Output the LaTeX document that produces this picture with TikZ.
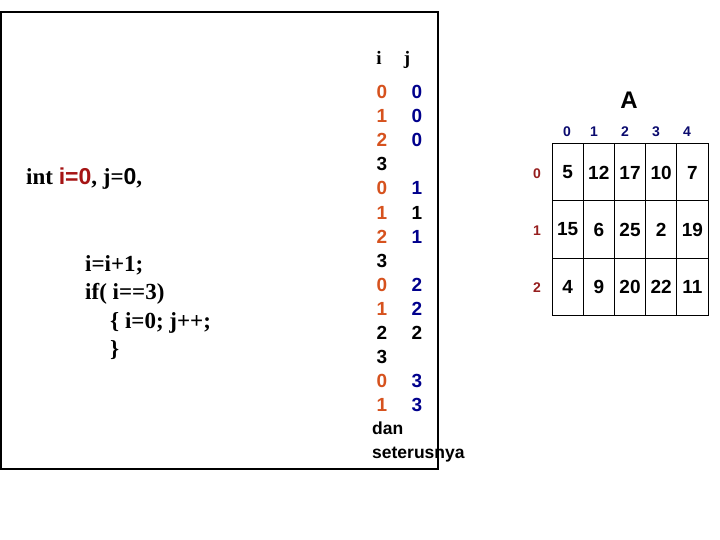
\documentclass[tikz,border=0pt]{standalone}
\usepackage{fontspec}
\setmainfont{Liberation Serif}
\newfontfamily\arialf{Liberation Sans}
\definecolor{icol}{RGB}{214,82,30}
\definecolor{jcol}{RGB}{0,0,140}
\definecolor{redcode}{RGB}{165,20,20}
\definecolor{rowidx}{RGB}{150,30,30}
\definecolor{colidx}{RGB}{10,10,110}
\begin{document}
\begin{tikzpicture}[x=1pt,y=-1pt,inner sep=0pt,
  code/.style={anchor=base west,font=\fontsize{23}{28}\selectfont\bfseries},
  hdr/.style={anchor=base,font=\fontsize{19}{24}\selectfont\bfseries},
  val/.style={font=\arialf\fontsize{19}{24}\selectfont\bfseries},
  iv/.style={val,text=icol}, jv/.style={val,text=jcol},
  note/.style={anchor=base west,font=\arialf\fontsize{17.5}{22}\selectfont\bfseries},
  cell/.style={draw,line width=1pt,minimum width=31.2pt,minimum height=57pt,font=\arialf\fontsize{19}{24}\selectfont\bfseries},
  idx/.style={font=\arialf\fontsize{14}{16}\selectfont\bfseries}]
\useasboundingbox (0,0) rectangle (720,540);
\draw[line width=2pt] (1,12) rectangle (438,469);
% program
\node[code] (decl) at (26,185) {int \textcolor{redcode}{\arialf i=0}, j={\arialf 0},};
\node[code] (inc) at (85,271) {i=i+1;}; \node[code] (cond) at (85,299) {if( i==3)};
\node[code] (body) at (110,328) {\{ i=0; j++;}; \node[code] (close) at (110,356) {\}};
% trace of i and j
\node[hdr] (hi) at (379,65) {i}; \node[hdr] (hj) at (407,65) {j};
\node[iv] (i1) at (382,92) {0}; \node[jv] (j1) at (417,92) {0};
\node[iv] (i2) at (382,116.1) {1}; \node[jv] (j2) at (417,116.1) {0};
\node[iv] (i3) at (382,140.2) {2}; \node[jv] (j3) at (417,140.2) {0};
\node[val] (i4) at (382,164.3) {3};
\node[iv] (i5) at (382,188.4) {0}; \node[jv] (j5) at (417,188.4) {1};
\node[iv] (i6) at (382,212.5) {1}; \node[val] (j6) at (417,212.5) {1};
\node[iv] (i7) at (382,236.6) {2}; \node[jv] (j7) at (417,236.6) {1};
\node[val] (i8) at (382,260.7) {3};
\node[iv] (i9) at (382,284.8) {0}; \node[jv] (j9) at (417,284.8) {2};
\node[iv] (i10) at (382,308.9) {1}; \node[jv] (j10) at (417,308.9) {2};
\node[val] (i11) at (382,333) {2}; \node[val] (j11) at (417,333) {2};
\node[val] (i12) at (382,357.1) {3};
\node[iv] (i13) at (382,381.2) {0}; \node[jv] (j13) at (417,381.2) {3};
\node[iv] (i14) at (382,405.3) {1}; \node[jv] (j14) at (417,405.3) {3};
\node[note] (dan) at (372,434) {dan}; \node[note] (seterus) at (372,458) {seterusnya};
% array A
\node[font=\arialf\fontsize{24}{28}\selectfont\bfseries] (title) at (629,100) {A};
\node[idx,text=colidx] (c0) at (567,132) {0}; \node[idx,text=colidx] (c1) at (594,132) {1}; \node[idx,text=colidx] (c2) at (625,132) {2}; \node[idx,text=colidx] (c3) at (656,132) {3}; \node[idx,text=colidx] (c4) at (687,132) {4};
\node[idx,text=rowidx] (r0) at (537,174) {0}; \node[idx,text=rowidx] (r1) at (537,231) {1}; \node[idx,text=rowidx] (r2) at (537,288) {2};
\node[cell] (a00) at (567.6,172.5) {5}; \node[cell] (a01) at (598.8,172.5) {12}; \node[cell] (a02) at (630,172.5) {17}; \node[cell] (a03) at (661.2,172.5) {10}; \node[cell] (a04) at (692.4,172.5) {7};
\node[cell] (a10) at (567.6,229.5) {15}; \node[cell] (a11) at (598.8,229.5) {6}; \node[cell] (a12) at (630,229.5) {25}; \node[cell] (a13) at (661.2,229.5) {2}; \node[cell] (a14) at (692.4,229.5) {19};
\node[cell] (a20) at (567.6,286.5) {4}; \node[cell] (a21) at (598.8,286.5) {9}; \node[cell] (a22) at (630,286.5) {20}; \node[cell] (a23) at (661.2,286.5) {22}; \node[cell] (a24) at (692.4,286.5) {11};
\end{tikzpicture}
\end{document}
